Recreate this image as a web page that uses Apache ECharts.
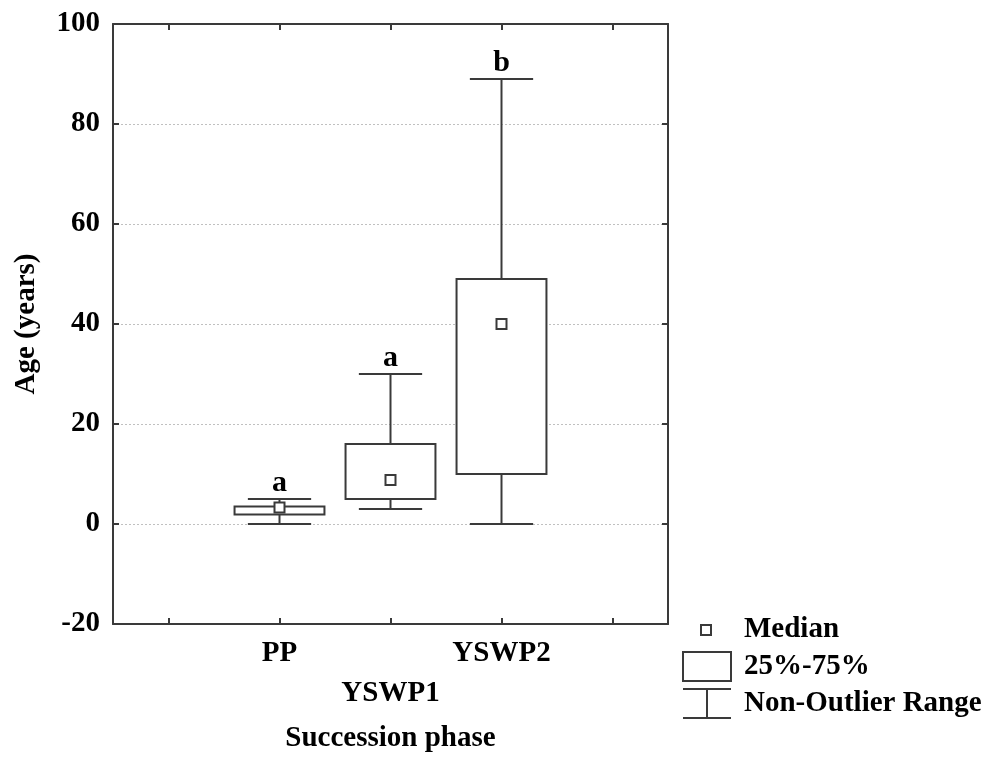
<!DOCTYPE html>
<html>
<head>
<meta charset="utf-8">
<script src="https://cdn.jsdelivr.net/npm/echarts@6/dist/echarts.min.js"></script>
<style>
html,body{margin:0;padding:0;background:#fff;}
#chart{width:1006px;height:758px;}
</style>
</head>
<body>
<div id="chart"></div>
<script>
// ---- data ----
const categories = ['PP', 'YSWP1', 'YSWP2'];
const minVals    = [0, 3, 0];
const q1Vals     = [1.9, 5, 10];
const medianVals = [3.3, 8.8, 40];
const q3Vals     = [3.5, 16, 49];
const maxVals    = [5, 30, 89];
const letters    = ['a', 'a', 'b'];
const yTicks     = [-20, 0, 20, 40, 60, 80, 100];

const FONT = '"Liberation Serif", "Times New Roman", serif';
const LINE = '#3a3a3a';
const FS = 29;

// padded category axis: blank slot on each side
const xCats = [''].concat(categories).concat(['']);
const boxData = categories.map((c, i) => [i + 1, minVals[i], q1Vals[i], medianVals[i], q3Vals[i], maxVals[i], letters[i]]);

const chart = echarts.init(document.getElementById('chart'), null, {renderer: 'canvas'});

const xLabelData = xCats.map(c => c === 'YSWP1'
  ? {value: c, textStyle: {padding: [40, 0, 0, 0]}}
  : {value: c});

const option = {
  backgroundColor: '#fff',
  animation: false,
  grid: {left: 113, top: 24, width: 555, height: 603, containLabel: false},
  xAxis: [{
    type: 'category',
    data: xLabelData,
    position: 'bottom',
    boundaryGap: true,
    axisLine: {show: true, onZero: false, lineStyle: {color: LINE, width: 2}},
    axisTick: {show: true, inside: true, length: 6, alignWithLabel: true, interval: 0, lineStyle: {color: LINE, width: 2}},
    axisLabel: {interval: 0, margin: 15, color: '#000', fontFamily: FONT, fontWeight: 'bold', fontSize: FS},
    splitLine: {show: false},
    name: 'Succession phase',
    nameLocation: 'middle',
    nameGap: 100,
    nameTextStyle: {color: '#000', fontFamily: FONT, fontWeight: 'bold', fontSize: FS}
  }, {
    type: 'category',
    data: xCats,
    position: 'top',
    boundaryGap: true,
    axisLine: {show: true, onZero: false, lineStyle: {color: LINE, width: 2}},
    axisTick: {show: true, inside: true, length: 6, alignWithLabel: true, interval: 0, lineStyle: {color: LINE, width: 2}},
    axisLabel: {show: false},
    splitLine: {show: false}
  }],
  yAxis: [{
    type: 'value',
    min: -20, max: 100, interval: 20,
    position: 'left',
    axisLine: {show: true, onZero: false, lineStyle: {color: LINE, width: 2}},
    axisTick: {show: true, inside: true, length: 6, lineStyle: {color: LINE, width: 2}},
    axisLabel: {margin: 13, color: '#000', fontFamily: FONT, fontWeight: 'bold', fontSize: FS,
      formatter: v => yTicks.indexOf(v) >= 0 ? String(v) : ''},
    splitLine: {show: true, lineStyle: {color: '#c0c0c0', type: [2, 2], width: 1}},
    name: 'Age (years)',
    nameLocation: 'middle',
    nameGap: 72,
    nameRotate: 90,
    nameTextStyle: {color: '#000', fontFamily: FONT, fontWeight: 'bold', fontSize: FS}
  }, {
    type: 'value',
    min: -20, max: 100, interval: 20,
    position: 'right',
    axisLine: {show: true, onZero: false, lineStyle: {color: LINE, width: 2}},
    axisTick: {show: true, inside: true, length: 6, lineStyle: {color: LINE, width: 2}},
    axisLabel: {show: false},
    splitLine: {show: false}
  }],
  series: [{
    type: 'custom',
    xAxisIndex: 0,
    yAxisIndex: 0,
    data: boxData,
    encode: {x: 0, y: [1, 2, 3, 4, 5]},
    renderItem: function (params, api) {
      const x = api.value(0);
      const pMin = api.coord([x, api.value(1)]);
      const pQ1 = api.coord([x, api.value(2)]);
      const pMed = api.coord([x, api.value(3)]);
      const pQ3 = api.coord([x, api.value(4)]);
      const pMax = api.coord([x, api.value(5)]);
      const band = api.size([1, 0])[0];
      const bw = band * 0.81;
      const cw = band * 0.57;
      const cx = pMed[0];
      const ls = {stroke: LINE, lineWidth: 2, fill: null};
      const sq = 10;
      return {
        type: 'group',
        children: [
          {type: 'line', shape: {x1: cx, y1: pQ3[1], x2: cx, y2: pMax[1]}, style: ls},
          {type: 'line', shape: {x1: cx, y1: pQ1[1], x2: cx, y2: pMin[1]}, style: ls},
          {type: 'line', shape: {x1: cx - cw / 2, y1: pMax[1], x2: cx + cw / 2, y2: pMax[1]}, style: ls},
          {type: 'line', shape: {x1: cx - cw / 2, y1: pMin[1], x2: cx + cw / 2, y2: pMin[1]}, style: ls},
          {type: 'rect', shape: {x: cx - bw / 2, y: pQ3[1], width: bw, height: pQ1[1] - pQ3[1]}, style: {stroke: LINE, lineWidth: 2, fill: '#fff'}},
          {type: 'rect', shape: {x: cx - sq / 2, y: pMed[1] - sq / 2, width: sq, height: sq}, style: {stroke: LINE, lineWidth: 2, fill: '#fff'}},
          {type: 'text', style: {text: api.value(6), x: cx, y: pMax[1] - 1, align: 'center', verticalAlign: 'bottom',
            fill: '#000', font: 'bold 30px ' + FONT}}
        ]
      };
    }
  }],
  graphic: [
    {type: 'rect', shape: {x: 701, y: 625, width: 10, height: 10}, style: {stroke: LINE, lineWidth: 2, fill: '#fff'}},
    {type: 'text', x: 744, y: 630, style: {text: 'Median', verticalAlign: 'middle', fill: '#000', font: 'bold ' + FS + 'px ' + FONT}},
    {type: 'rect', shape: {x: 683, y: 652, width: 48, height: 29}, style: {stroke: LINE, lineWidth: 2, fill: '#fff'}},
    {type: 'text', x: 744, y: 667, style: {text: '25%-75%', verticalAlign: 'middle', fill: '#000', font: 'bold ' + FS + 'px ' + FONT}},
    {type: 'line', shape: {x1: 683, y1: 689, x2: 731, y2: 689}, style: {stroke: LINE, lineWidth: 2}},
    {type: 'line', shape: {x1: 707, y1: 689, x2: 707, y2: 718}, style: {stroke: LINE, lineWidth: 2}},
    {type: 'line', shape: {x1: 683, y1: 718, x2: 731, y2: 718}, style: {stroke: LINE, lineWidth: 2}},
    {type: 'text', x: 744, y: 704, style: {text: 'Non-Outlier Range', verticalAlign: 'middle', fill: '#000', font: 'bold ' + FS + 'px ' + FONT}}
  ]
};
chart.setOption(option);
</script>
</body>
</html>
